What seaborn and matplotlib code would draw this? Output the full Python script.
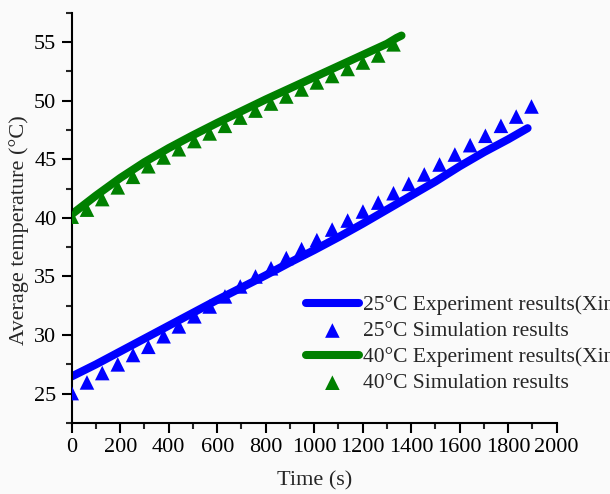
import numpy as np
import pandas as pd
import matplotlib
matplotlib.use("Agg")
import matplotlib.pyplot as plt
from matplotlib.ticker import MultipleLocator
import seaborn as sns

# ---- data ----
exp25_time = [0, 100, 200, 300, 400, 500, 600, 700, 800, 900, 1000, 1100, 1200,
              1300, 1400, 1500, 1600, 1700, 1800, 1880]
exp25_temp = [26.47, 27.5, 28.6, 29.7, 30.8, 31.9, 33.0, 34.05, 35.1, 36.2, 37.25,
              38.35, 39.5, 40.7, 41.9, 43.1, 44.4, 45.6, 46.7, 47.65]

sim25_time = [0, 63, 126, 190, 253, 316, 379, 442, 506, 569, 632, 695, 758, 822,
              885, 948, 1011, 1074, 1138, 1201, 1264, 1327, 1390, 1454, 1517, 1580,
              1643, 1706, 1770, 1833, 1896]
sim25_temp = [25.05, 25.96, 26.76, 27.5, 28.3, 29.0, 29.9, 30.74, 31.6, 32.44, 33.3,
              34.15, 35.0, 35.7, 36.57, 37.33, 38.1, 39.0, 39.77, 40.54, 41.3, 42.1,
              42.9, 43.7, 44.55, 45.4, 46.2, 47.0, 47.85, 48.64, 49.5]

exp40_time = [0, 100, 200, 300, 400, 500, 600, 700, 800, 900, 1000, 1100, 1200,
              1300, 1340, 1360]
exp40_temp = [40.3, 41.9, 43.4, 44.75, 45.95, 47.05, 48.1, 49.1, 50.1, 51.05, 52.0,
              52.95, 53.9, 54.85, 55.35, 55.55]

sim40_time = [0, 63, 126, 190, 253, 316, 379, 442, 506, 569, 632, 695, 758, 822,
              885, 948, 1011, 1074, 1138, 1201, 1264, 1327]
sim40_temp = [40.1, 40.7, 41.6, 42.6, 43.5, 44.4, 45.15, 45.85, 46.55, 47.2, 47.85,
              48.55, 49.15, 49.75, 50.35, 50.95, 51.55, 52.1, 52.7, 53.25, 53.85, 54.8]

labels = ["25\u00b0C Experiment results(Xin", "25\u00b0C Simulation results",
          "40\u00b0C Experiment results(Xin", "40\u00b0C Simulation results"]
x_ticks = [0, 200, 400, 600, 800, 1000, 1200, 1400, 1600, 1800, 2000]
y_ticks = [25, 30, 35, 40, 45, 50, 55]

# ---- style ----
sns.set_style("ticks")
plt.rcParams["font.family"] = ["Liberation Serif", "DejaVu Serif"]
FS = 16

fig = plt.figure(figsize=(6.10, 4.94), dpi=100, facecolor="#fafafa")
ax = fig.add_axes([71.7 / 610, 1 - 423 / 494, (556.7 - 71.7) / 610, (423 - 12.7) / 494])
ax.set_facecolor("#fafafa")

blue = "#0000ff"
green = "#008000"

d25e = pd.DataFrame({"t": exp25_time, "T": exp25_temp})
d25s = pd.DataFrame({"t": sim25_time, "T": sim25_temp})
d40e = pd.DataFrame({"t": exp40_time, "T": exp40_temp})
d40s = pd.DataFrame({"t": sim40_time, "T": sim40_temp})

sns.lineplot(data=d25e, x="t", y="T", ax=ax, color=blue, linewidth=5.8,
             label=labels[0], solid_capstyle="round", estimator=None, sort=False)
sns.scatterplot(data=d25s, x="t", y="T", ax=ax, color=blue, marker="^", s=110,
                edgecolor="none", label=labels[1], zorder=3)
sns.lineplot(data=d40e, x="t", y="T", ax=ax, color=green, linewidth=5.8,
             label=labels[2], solid_capstyle="round", estimator=None, sort=False)
sns.scatterplot(data=d40s, x="t", y="T", ax=ax, color=green, marker="^", s=110,
                edgecolor="none", label=labels[3], zorder=3)

ax.set_xlim(0, 2000)
ax.set_ylim(22.5, 57.5)
ax.set_xticks(x_ticks)
ax.set_yticks(y_ticks)
ax.xaxis.set_minor_locator(MultipleLocator(100))
ax.yaxis.set_minor_locator(MultipleLocator(2.5))
ax.tick_params(axis="both", which="major", direction="out", length=7, width=1.5,
               labelsize=FS, colors="black", pad=4)
ax.tick_params(axis="both", which="minor", direction="out", length=4, width=1.5)
for side in ["top", "right"]:
    ax.spines[side].set_visible(False)
for side in ["left", "bottom"]:
    ax.spines[side].set_linewidth(1.5)
    ax.spines[side].set_color("black")

ax.set_xlabel("Time (s)", fontsize=FS, labelpad=10)
ax.set_ylabel("Average temperature (\u00b0C)", fontsize=FS)
ax.yaxis.set_label_coords(-0.088, 0.47)

handles, labs = ax.get_legend_handles_labels()
leg = ax.legend(handles, labs, loc="upper left",
                bbox_to_anchor=(306 / 610, 1 - 295 / 494),
                bbox_transform=fig.transFigure, frameon=False, fontsize=15.5,
                borderpad=0, borderaxespad=0, handlelength=2.45,
                handletextpad=0.2, labelspacing=0.28)

fig.savefig("out.png", dpi=100, facecolor=fig.get_facecolor())
